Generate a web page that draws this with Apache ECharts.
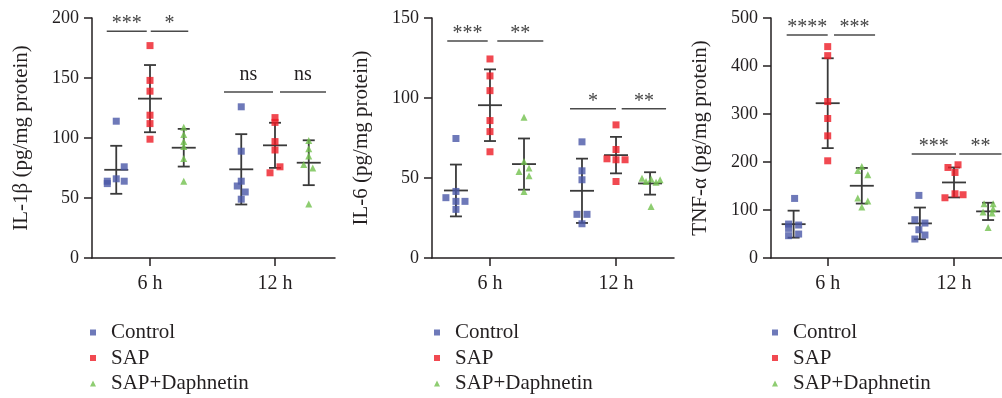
<!DOCTYPE html>
<html>
<head>
<meta charset="utf-8">
<script src="https://cdn.jsdelivr.net/npm/echarts@6/dist/echarts.min.js"></script>
<style>
  html, body { margin: 0; padding: 0; background: #fff; }
  #chart { width: 1002px; height: 398px; }
</style>
</head>
<body>
<div id="chart"></div>
<script>
const groups = ['Control', 'SAP', 'SAP+Daphnetin']
const times = ['6 h', '12 h']

// each group: [6 h values, 12 h values]
const il1bControl = [[114, 76, 66, 64, 62, 64], [126, 89, 64, 60, 55, 49]]
const il1bSap = [[177, 148, 139, 119, 112, 99], [117, 113, 97, 90, 76, 71]]
const il1bDaph = [[109, 103, 97, 93, 83, 64], [98, 91, 85, 78, 75, 45]]
const il1bMean = [[73.5, 73.9], [132.8, 93.9], [91.9, 79.4]]
const il1bSd = [[20, 29.3], [28, 18.8], [15.7, 18.7]]

const il6Control = [[74.7, 41.6, 37.7, 35.4, 35.4, 30.4], [72.6, 54.5, 48.9, 27.3, 27.3, 21.4]]
const il6Sap = [[124.4, 113.8, 104.6, 85.9, 79, 66.4], [83.2, 67.8, 62, 61.4, 61.4, 47.8]]
const il6Daph = [[88, 60.3, 56.2, 54.1, 51.4, 41.6], [49.9, 47.8, 49.3, 47.4, 48.9, 32.2]]
const il6Mean = [[42.2, 42], [95.5, 64.3], [58.7, 46.6]]
const il6Sd = [[16.2, 20.1], [22.4, 11.4], [16, 7]]

const tnfControl = [[124.1, 70.7, 68.7, 61.7, 46.5, 49.9], [130.4, 79.8, 72.8, 58.9, 47.9, 39.5]]
const tnfSap = [[440.4, 421.6, 325.9, 290.6, 254.5, 202.5], [188.6, 194.2, 178.2, 133.8, 125.5, 131.8]]
const tnfDaph = [[190.7, 182.4, 173.4, 124.8, 118.6, 106.1], [113, 113, 102.6, 95.7, 93.6, 63.8]]
const tnfMean = [[70.5, 72.1], [322.5, 157.4], [150.5, 97.1]]
const tnfSd = [[28.1, 33], [93.6, 31.2], [37.1, 18]]

// significance brackets: [x start, x end, y, label]
const il1bSig = [[0.654, 0.974, 189, '***'], [1.006, 1.306, 189, '*'], [1.592, 1.984, 138.3, 'ns'], [2.04, 2.408, 138.3, 'ns']]
const il6Sig = [[0.661, 0.982, 135.6, '***'], [1.058, 1.423, 135.6, '**'], [1.635, 2.0, 93.3, '*'], [2.045, 2.397, 93.3, '**']]
const tnfSig = [[0.675, 1.0, 464.6, '****'], [1.05, 1.375, 464.6, '***'], [1.665, 2.016, 216.7, '***'], [2.042, 2.376, 216.7, '**']]

// horizontal scatter of dots inside a column (px)
const il1bJitter = [[[0, 8, 0, -9, -9, 8], [0, 0, 0, -4, 4, 0]], [[0, 0, 0, 0, 0, 0], [0, 0, 0, 0, 5, -5]], [[0, 0, 0, 0, 0, 0], [0, 0, 0, -5, 4, 0]]]
const il6Jitter = [[[0, 0, -10, 0, 9, 0], [0, 0, 0, -5, 5, 0]], [[0, 0, 0, 0, 0, 0], [0, 0, -9, 0, 9, 0]], [[0, 0, 5, -5, 5, 0], [-8, -4, 1, 6, 10, 1]]]
const tnfJitter = [[[1, -5, 5, -5, -5, 5], [-1, -5, 5, -1, 5, -5]], [[0, 0, 0, 0, 0, 0], [-6, 4, 1, 1, -9, 9]], [[0, -4, 6, -4, 6, 0], [-4, 5, 5, -5, 4, 0]]]

const FONT = '"Liberation Serif", "Times New Roman", serif'
const INK = '#231f20'
const colors = ['#4a58a8', '#ee1c25', '#72c14e']
const symbols = ['rect', 'rect', 'triangle']
const groupOffset = [-0.27, 0, 0.27]
const pxPerUnit = 125.5

const panels = [
  { name: 'IL-1β (pg/mg protein)', max: 200, interval: 50, pts: [il1bControl, il1bSap, il1bDaph], jit: il1bJitter, mean: il1bMean, sd: il1bSd, sig: il1bSig,
    grid: { left: 92, top: 18, width: 243, height: 240 }, xMin: 0.536, xMax: 2.48, legendLeft: 90 },
  { name: 'IL-6 (pg/mg protein)', max: 150, interval: 50, pts: [il6Control, il6Sap, il6Daph], jit: il6Jitter, mean: il6Mean, sd: il6Sd, sig: il6Sig,
    grid: { left: 432, top: 18, width: 242, height: 240 }, xMin: 0.54, xMax: 2.46, legendLeft: 434 },
  { name: 'TNF-α (pg/mg protein)', max: 500, interval: 100, pts: [tnfControl, tnfSap, tnfDaph], jit: tnfJitter, mean: tnfMean, sd: tnfSd, sig: tnfSig,
    grid: { left: 771, top: 18, width: 231, height: 240 }, xMin: 0.551, xMax: 2.38, legendLeft: 772 }
]

const chart = echarts.init(document.getElementById('chart'))

const grid = panels.map(p => p.grid)

const xAxis = panels.map((p, i) => ({
  type: 'value', gridIndex: i, min: p.xMin, max: p.xMax,
  splitLine: { show: false },
  axisLine: { lineStyle: { color: INK, width: 1.5 } },
  axisTick: { show: true, customValues: [1, 2], length: 8, lineStyle: { color: INK, width: 1.5 } },
  axisLabel: { customValues: [1, 2], formatter: v => times[Math.round(v) - 1], margin: 16,
    color: INK, fontSize: 20, fontFamily: FONT }
}))

const yAxis = panels.map((p, i) => ({
  type: 'value', gridIndex: i, min: 0, max: p.max, interval: p.interval,
  name: p.name, nameLocation: 'middle', nameGap: 60,
  nameTextStyle: { color: INK, fontSize: 21, fontFamily: FONT },
  splitLine: { show: false },
  axisLine: { show: true, lineStyle: { color: INK, width: 1.5 } },
  axisTick: { show: true, length: 8, lineStyle: { color: INK, width: 1.5 } },
  axisLabel: { color: INK, fontSize: 18, fontFamily: FONT, margin: 13 }
}))

const series = []
panels.forEach((p, i) => {
  // mean ± SD
  const bars = []
  groups.forEach((g, gi) => {
    times.forEach((t, ti) => {
      bars.push([ti + 1 + groupOffset[gi], p.mean[gi][ti], p.sd[gi][ti]])
    })
  })
  series.push({
    type: 'custom', xAxisIndex: i, yAxisIndex: i, z: 2, silent: true,
    data: bars,
    renderItem: (params, api) => {
      const x = api.value(0), m = api.value(1), s = api.value(2)
      const c = api.coord([x, m])
      const hi = api.coord([x, m + s])
      const lo = api.coord([x, m - s])
      const st = { stroke: '#3a3a3a', lineWidth: 1.8 }
      return { type: 'group', children: [
        { type: 'line', shape: { x1: c[0] - 12, y1: c[1], x2: c[0] + 12, y2: c[1] }, style: st },
        { type: 'line', shape: { x1: c[0], y1: hi[1], x2: c[0], y2: lo[1] }, style: st },
        { type: 'line', shape: { x1: c[0] - 6, y1: hi[1], x2: c[0] + 6, y2: hi[1] }, style: st },
        { type: 'line', shape: { x1: c[0] - 6, y1: lo[1], x2: c[0] + 6, y2: lo[1] }, style: st }
      ] }
    }
  })
  // dots
  groups.forEach((g, gi) => {
    const data = []
    times.forEach((t, ti) => {
      p.pts[gi][ti].forEach((v, k) => {
        data.push([ti + 1 + groupOffset[gi] + p.jit[gi][ti][k] / pxPerUnit, v])
      })
    })
    series.push({
      name: g, type: 'scatter', xAxisIndex: i, yAxisIndex: i, z: 3,
      symbol: symbols[gi], symbolSize: 7,
      itemStyle: { color: colors[gi] },
      data
    })
  })
  // significance
  series.push({
    type: 'custom', xAxisIndex: i, yAxisIndex: i, z: 2, silent: true,
    data: p.sig.map(s => [s[0], s[2], s[1]]),
    renderItem: (params, api) => {
      const a = api.coord([api.value(0), api.value(1)])
      const b = api.coord([api.value(2), api.value(1)])
      const label = p.sig[params.dataIndex][3]
      const isNs = label === 'ns'
      return { type: 'group', children: [
        { type: 'line', shape: { x1: a[0], y1: a[1], x2: b[0], y2: b[1] }, style: { stroke: '#4a4a4a', lineWidth: 1.5 } },
        { type: 'text', x: (a[0] + b[0]) / 2, y: a[1] - (isNs ? 17 : 7),
          style: { text: label, fill: isNs ? INK : '#444', fontSize: 20, fontFamily: FONT, align: 'center', verticalAlign: 'middle' } }
      ] }
    }
  })
})

const legend = panels.map(p => ({
  orient: 'vertical', left: p.legendLeft, top: 322, padding: 0,
  data: groups, itemWidth: 6, itemHeight: 6, itemGap: 4.5,
  selectedMode: false,
  textStyle: { color: INK, fontSize: 21, fontFamily: FONT, lineHeight: 20, padding: [0, 0, 0, 10] }
}))

chart.setOption({
  animation: false,
  backgroundColor: '#fff',
  grid, xAxis, yAxis, legend, series
})
</script>
</body>
</html>
